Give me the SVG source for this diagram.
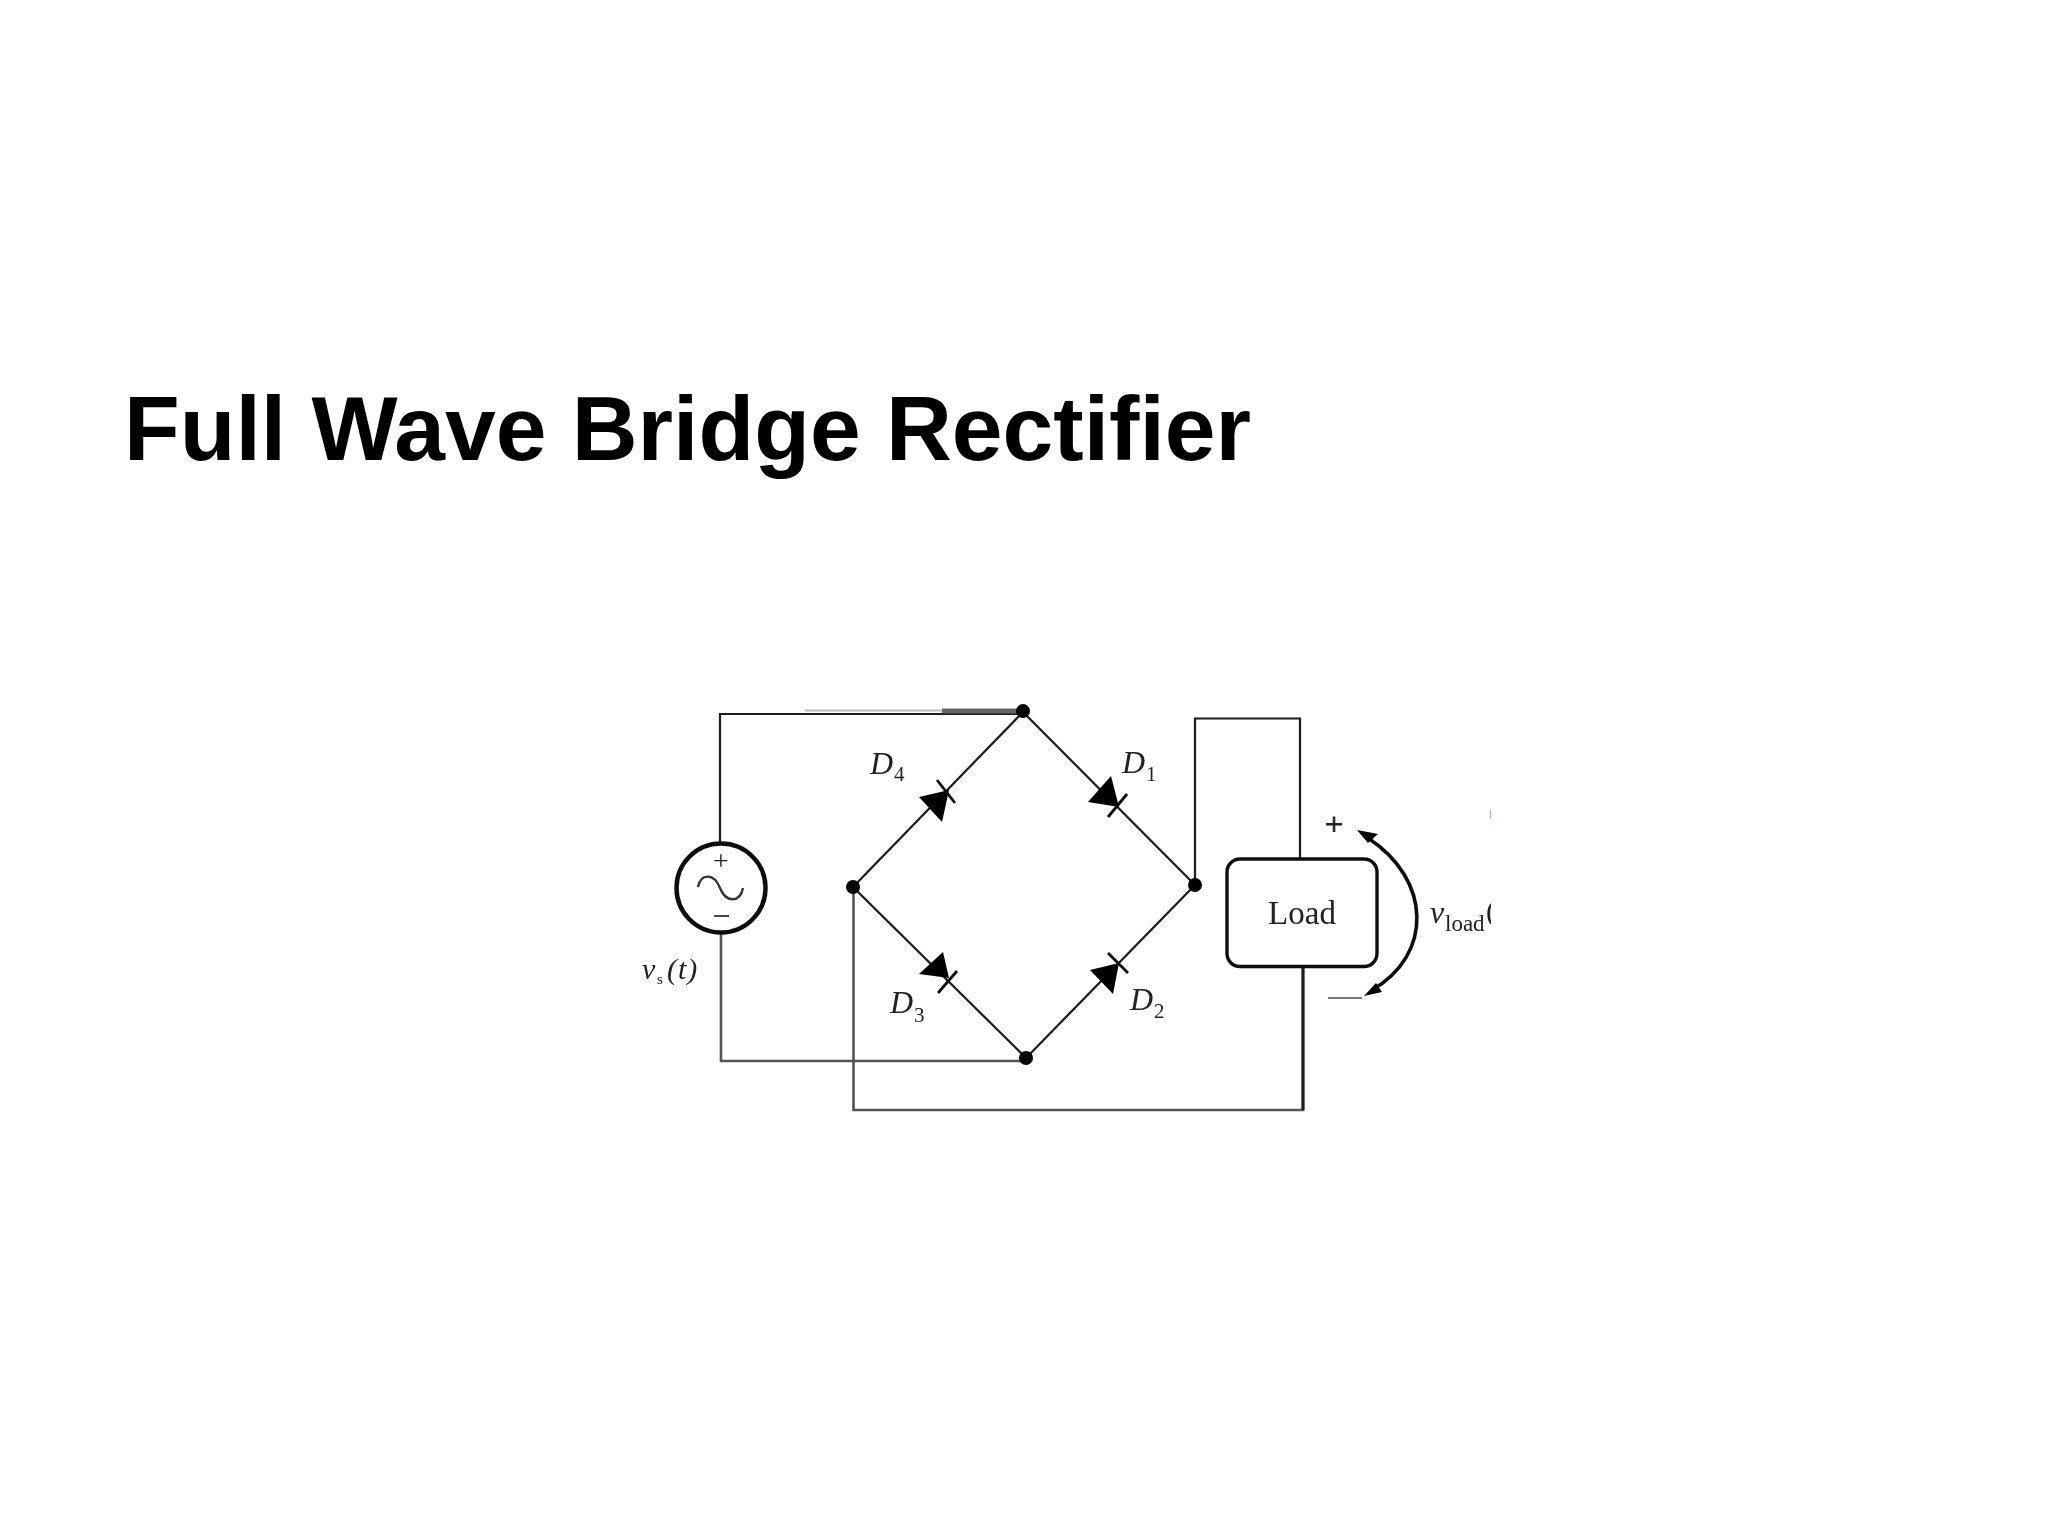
<svg xmlns="http://www.w3.org/2000/svg" width="2048" height="1536" viewBox="0 0 2048 1536">
<style>
.w{fill:none;stroke:#1a1a1a;stroke-width:2.2}
.wg{fill:none;stroke:#555;stroke-width:2.6}
.b{fill:none;stroke:#111;stroke-width:3.4}
.f{fill:#000;stroke:none}
.bar{fill:none;stroke:#111;stroke-width:2.8}
.s{font-family:"Liberation Serif",serif;fill:#222}
.i{font-style:italic;font-size:32px}
.n{font-size:21px}
</style>
<defs>
<filter id="soft" x="-5%" y="-5%" width="110%" height="110%"><feGaussianBlur stdDeviation="0.6"/></filter>
<clipPath id="cut"><rect x="1400" y="880" width="91" height="70"/></clipPath>
</defs>
<rect width="2048" height="1536" fill="#fff"/>
<text id="title" x="124" y="460" font-family="&quot;Liberation Sans&quot;,Arial,sans-serif" font-weight="700" font-size="90" fill="#000" textLength="1127" lengthAdjust="spacingAndGlyphs">Full Wave Bridge Rectifier</text>
<g filter="url(#soft)">
<g id="connectors">
<path class="w" d="M720 843V714H1023"/>
<path d="M805 710.500H942" stroke="#bbb" stroke-width="2" fill="none"/>
<path d="M942 711H1017" stroke="#666" stroke-width="5" fill="none"/>
<path class="wg" d="M721 934V1061H1026"/>
<path class="w" d="M1023 712L853 887L1026 1058L1195 885L1023 712"/>
<path class="wg" d="M853.500 887V1110H1303V967"/>
<path class="w" d="M1195 885V718.500H1300V859"/>
<path d="M1303 967V1110" fill="none" stroke="#1a1a1a" stroke-width="3"/>
</g>
<g id="junctions">
<circle class="f" cx="1023" cy="711" r="7"/>
<circle class="f" cx="853" cy="887" r="7"/>
<circle class="f" cx="1026" cy="1058" r="7"/>
<circle class="f" cx="1195" cy="885" r="7"/>
</g>
<g id="source">
<circle cx="721" cy="888" r="44.500" fill="#fff" stroke="#111" stroke-width="4.500"/>
<path d="M698 887C701 873 714 873 720 888C726 903 740 903 743 888" fill="none" stroke="#333" stroke-width="2.400"/>
<text class="s" x="721" y="870" font-size="28" text-anchor="middle" fill="#555">+</text>
<path d="M714 916H729" stroke="#444" stroke-width="2" fill="none"/>
<g>
<text class="s" x="642" y="979" font-size="30" font-style="italic">v</text>
<text class="s" x="657" y="984" font-size="15">s</text>
<text class="s" x="667" y="979" font-size="30" font-style="italic" letter-spacing="1">(t)</text>
</g>
</g>
<g id="D4">
<polygon class="f" points="949,790 919,797 942,822"/>
<path class="bar" d="M937 780L955 803"/>
<text class="s i" x="870" y="774">D</text>
<text class="s n" x="894" y="781">4</text>
</g>
<g id="D3">
<polygon class="f" points="949,978 919,974 943,952"/>
<path class="bar" d="M957 971L938 993"/>
<text class="s i" x="890" y="1013">D</text>
<text class="s n" x="914" y="1022">3</text>
</g>
<g id="D1">
<polygon class="f" points="1119,807 1111,776 1088,802"/>
<path class="bar" d="M1127 794L1108 817"/>
<text class="s i" x="1122" y="773">D</text>
<text class="s n" x="1146" y="781">1</text>
</g>
<g id="D2">
<polygon class="f" points="1119,963 1090,970 1113,994"/>
<path class="bar" d="M1108 953L1128 973"/>
<text class="s i" x="1130" y="1010">D</text>
<text class="s n" x="1154" y="1018">2</text>
</g>
<g id="load">
<rect class="b" x="1227" y="859" width="150" height="107.500" rx="13" fill="#fff"/>
<text class="s" x="1302" y="924" font-size="33" text-anchor="middle">Load</text>
</g>
<g id="v-load">
<path d="M1368 838C1432 880 1433 955 1372 990" fill="none" stroke="#111" stroke-width="3.600"/>
<polygon class="f" points="1357,830 1378,834 1368,843"/>
<polygon class="f" points="1364,996 1376,983 1382,992"/>
<text class="s" x="1325" y="835" font-size="32" stroke="#222" stroke-width="1">+</text>
<path d="M1328 998H1362" stroke="#777" stroke-width="2" fill="none"/>
<text class="s" x="1430" y="923" font-size="32" font-style="italic">v</text>
<text class="s" x="1445" y="931" font-size="23">load</text>
<text class="s" x="1486" y="921" font-size="30" clip-path="url(#cut)">(</text>
<path d="M1490.500 810V819" stroke="#e8a0a0" stroke-width="1.200" fill="none"/>
</g>
</g>
</svg>
